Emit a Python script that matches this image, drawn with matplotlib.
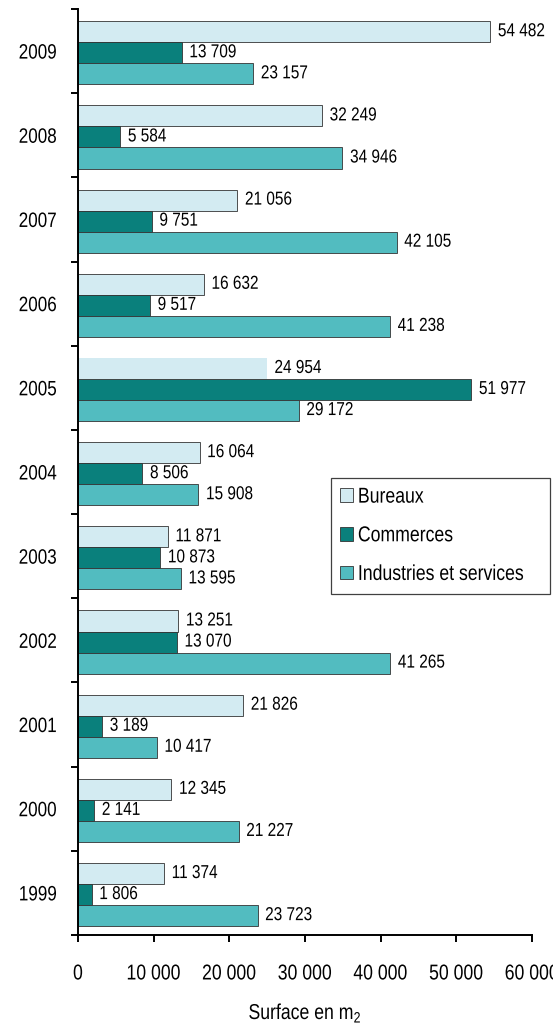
import numpy as np
import matplotlib
matplotlib.use("Agg")
import matplotlib.pyplot as plt
from matplotlib.patheffects import AbstractPathEffect
from matplotlib.transforms import Affine2D
from matplotlib.ticker import FixedLocator, FuncFormatter

plt.rcParams["font.family"] = ["Liberation Sans", "DejaVu Sans"]
plt.rcParams["mathtext.fontset"] = "custom"
plt.rcParams["mathtext.rm"] = "Liberation Sans"

YEARS = ["1999", "2000", "2001", "2002", "2003", "2004",
         "2005", "2006", "2007", "2008", "2009"]
BUREAUX = [11374, 12345, 21826, 13251, 11871, 16064,
           24954, 16632, 21056, 32249, 54482]
COMMERCES = [1806, 2141, 3189, 13070, 10873, 8506,
             51977, 9517, 9751, 5584, 13709]
INDUSTRIES = [23723, 21227, 10417, 41265, 13595, 15908,
              29172, 41238, 42105, 34946, 23157]

SERIES = [
    ("Bureaux", BUREAUX, "#d3ebf2", 0.73),
    ("Commerces", COMMERCES, "#0a807c", 0.48),
    ("Industries et services", INDUSTRIES, "#52bcc0", 0.23),
]
EDGE = "#333333"
BAR_H = 0.25
NARROW = 0.82  # l'original est en Arial Narrow, absente ici


class Narrow(AbstractPathEffect):
    """Compresse le texte horizontalement (imitation d'une police étroite)."""

    def __init__(self, sx=NARROW, anchor="left"):
        super().__init__()
        self.sx = sx
        self.anchor = anchor

    def draw_path(self, renderer, gc, tpath, affine, rgbFace=None):
        ext = tpath.get_extents()
        if self.anchor == "center":
            px = (ext.x0 + ext.x1) / 2
        elif self.anchor == "right":
            px = ext.x1
        else:
            px = 0
        t = Affine2D().translate(-px, 0).scale(self.sx, 1).translate(px, 0) + affine
        renderer.draw_path(gc, tpath, t, rgbFace)


def fmt_thousands(v):
    return f"{int(v):,}".replace(",", " ")


fig = plt.figure(figsize=(5.53, 10.24), dpi=100)
ax = fig.add_axes([78 / 553, 1 - 935 / 1024, 454 / 553, 926 / 1024])

base = np.arange(len(YEARS))
handles = []
for name, vals, color, off in SERIES:
    bars = ax.barh(base + off, vals, height=BAR_H, color=color,
                   edgecolor=EDGE, linewidth=0.6, label=name)
    handles.append(bars)
    for b, v in zip(bars, vals):
        ax.annotate(fmt_thousands(v), (v, b.get_y() + BAR_H / 2),
                    xytext=(5.5, 0), textcoords="offset points",
                    va="center", ha="left", fontsize=13.5,
                    path_effects=[Narrow()])

# la barre Bureaux 2005 n'a pas de contour dans l'original
handles[0][YEARS.index("2005")].set_edgecolor("none")

ax.set_xlim(0, 60000)
ax.set_ylim(0, len(YEARS))

ax.set_xticks(np.arange(0, 60001, 10000))
ax.xaxis.set_major_formatter(FuncFormatter(lambda v, p: fmt_thousands(v)))
ax.tick_params(axis="x", direction="out", length=5, width=1.4,
               pad=15.5, labelsize=15.5)

ax.yaxis.set_major_locator(FixedLocator(base + 0.5))
ax.set_yticklabels(YEARS)
ax.yaxis.set_minor_locator(FixedLocator(np.arange(len(YEARS) + 1)))
ax.tick_params(axis="y", which="major", length=0, pad=15, labelsize=15)
ax.tick_params(axis="y", which="minor", direction="out", length=5, width=1.4)

for t in ax.get_xticklabels():
    t.set_path_effects([Narrow(anchor="center")])
for t in ax.get_yticklabels():
    t.set_path_effects([Narrow(anchor="right")])

for s in ["top", "right"]:
    ax.spines[s].set_visible(False)
for s in ["left", "bottom"]:
    ax.spines[s].set_linewidth(1.4)

xl = ax.set_xlabel(r"Surface en m$_{\mathrm{2}}$", fontsize=15.5, labelpad=12)
xl.set_path_effects([Narrow(anchor="center")])

leg = ax.legend(loc="upper left",
                bbox_to_anchor=(253 / 454, 0.3715, 219 / 454, 0.122),
                mode="expand", borderaxespad=0, fontsize=15.5, frameon=True,
                fancybox=False, edgecolor="#404040", framealpha=1,
                labelspacing=0.82, handlelength=0.6, handleheight=0.6,
                handletextpad=0.25, borderpad=0.4)
leg.get_frame().set_linewidth(0.9)
for h in leg.legend_handles:
    h.set_edgecolor(EDGE)
    h.set_linewidth(0.6)
for t in leg.get_texts():
    t.set_path_effects([Narrow()])

fig.savefig("out.png", dpi=100)
